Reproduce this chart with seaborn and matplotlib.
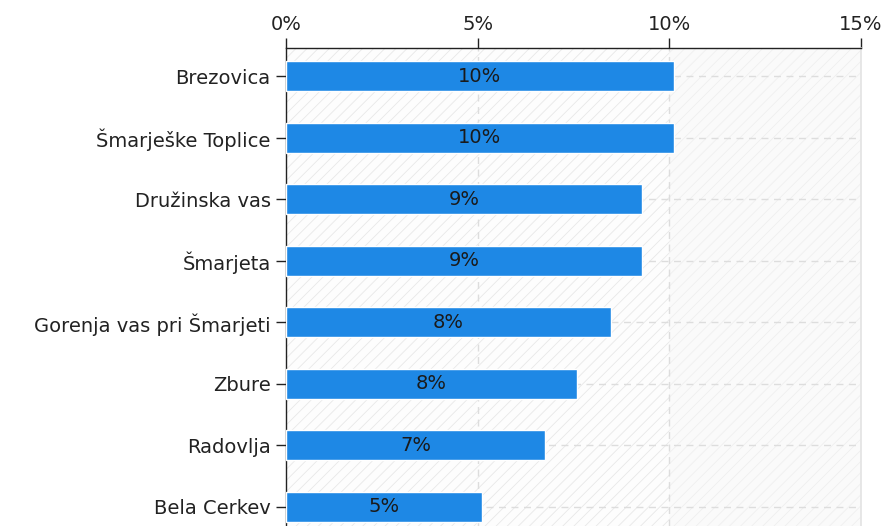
import seaborn as sns
import matplotlib
matplotlib.use("Agg")
import matplotlib.pyplot as plt
import pandas as pd

sns.set_theme(style="white")
plt.rcParams['font.family'] = ['DejaVu Sans']
plt.rcParams['hatch.linewidth'] = 0.6

# data
places = ["Brezovica", "Šmarješke Toplice", "Družinska vas", "Šmarjeta",
          "Gorenja vas pri Šmarjeti", "Zbure", "Radovlja", "Bela Cerkev"]
shares = [10.12, 10.12, 9.29, 9.29, 8.48, 7.59, 6.76, 5.11]
xticks = [0, 5, 10, 15]

df = pd.DataFrame({"place": places, "share": shares})

fig = plt.figure(figsize=(8.88, 5.26), dpi=100)
ax = fig.add_axes([0.322, 0.0, 0.6475, 0.9087])

# hatched background bands
ax.axvspan(0, 10, facecolor="#fdfdfd", edgecolor="#e8e8e8", hatch="///", lw=0, zorder=0)
ax.axvspan(10, 15, facecolor="#fafafa", edgecolor="#efefef", hatch="///", lw=0, zorder=0)

sns.barplot(data=df, y="place", x="share", orient="h", color="#1e88e5",
            saturation=1, width=0.49, ax=ax, zorder=3)

for i, v in enumerate(shares):
    ax.text(v / 2, i, f"{round(v):.0f}%", ha="center", va="center",
            fontsize=14, color="#1a1a1a", zorder=4)

# dashed grid
for i in range(len(places)):
    ax.axhline(i, color="#dddddd", ls=(0, (5, 4)), lw=1, zorder=1)
for t in xticks[1:3]:
    ax.axvline(t, color="#dddddd", ls=(0, (5, 4)), lw=1, zorder=1)

ax.set_xlim(0, 15)
ax.set_ylim(7.31, -0.455)
ax.xaxis.tick_top()
ax.set_xticks(xticks)
ax.set_xticklabels([f"{t}%" for t in xticks])
ax.set_xlabel("")
ax.set_ylabel("")

ax.tick_params(axis="x", top=True, direction="out", length=7, width=1,
               color="#222222", labelsize=14, labelcolor="#222222", pad=3)
ax.tick_params(axis="y", left=True, direction="out", length=7, width=1,
               color="#222222", labelsize=14, labelcolor="#222222", pad=4)

ax.spines["bottom"].set_visible(False)
ax.spines["right"].set_color("#e4e4e4")
ax.spines["top"].set_color("#222222")
ax.spines["left"].set_color("#222222")
ax.spines["top"].set_linewidth(1)
ax.spines["left"].set_linewidth(1)

fig.savefig("out.png", dpi=100)
